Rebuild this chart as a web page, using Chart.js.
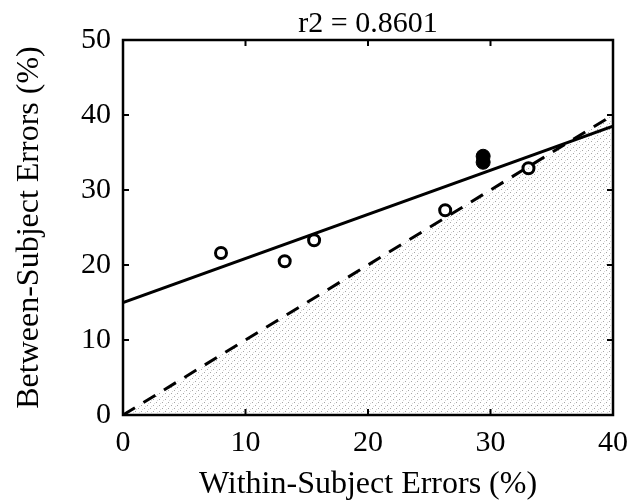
<!DOCTYPE html>
<html>
<head>
<meta charset="utf-8">
<script src="https://cdn.jsdelivr.net/npm/chart.js@4"></script>
<style>
  html, body { margin: 0; padding: 0; background: #fff; }
  #wrap { width: 637px; height: 504px; }
</style>
</head>
<body>
<div id="wrap"><canvas id="myChart" width="637" height="504"></canvas></div>
<script>
// data
const withinErr = [8.0, 13.2, 15.6, 26.3, 33.1];
const betweenErr = [21.6, 20.5, 23.3, 27.3, 32.9];
const filledWithin = [29.4, 29.4];
const filledBetween = [33.7, 34.5];
const fitX = [0, 40];
const fitY = [15.0, 38.5];
const diagX = [0, 40];
const diagY = [0, 40];
const xTicks = [0, 10, 20, 30, 40];
const yTicks = [0, 10, 20, 30, 40, 50];
const titleText = 'r2 = 0.8601';

const pts = (xs, ys) => xs.map((x, i) => ({ x: x, y: ys[i] }));

// stipple pattern for the area under the 1:1 line
function stipple() {
  const c = document.createElement('canvas');
  c.width = 6; c.height = 6;
  const g = c.getContext('2d');
  g.fillStyle = 'rgba(0,0,0,0.35)';
  g.fillRect(0, 0, 1, 1);
  g.fillRect(3, 3, 1, 1);
  g.fillStyle = 'rgba(0,0,0,0.15)';
  g.fillRect(4, 1, 1, 1);
  g.fillRect(1, 4, 1, 1);
  return g.createPattern(c, 'repeat');
}

const serif = 'Liberation Serif';

// frame, inside ticks on all four sides, title centred over the plot
const framePlugin = {
  id: 'framePlugin',
  afterDraw(chart) {
    const { ctx, chartArea: a, scales } = chart;
    ctx.save();
    ctx.strokeStyle = '#000';
    ctx.lineWidth = 2.5;
    ctx.strokeRect(a.left, a.top, a.right - a.left, a.bottom - a.top);
    ctx.lineWidth = 2;
    const len = 6;
    ctx.beginPath();
    xTicks.slice(1, -1).forEach(v => {
      const px = scales.x.getPixelForValue(v);
      ctx.moveTo(px, a.bottom); ctx.lineTo(px, a.bottom - len);
      ctx.moveTo(px, a.top); ctx.lineTo(px, a.top + len);
    });
    yTicks.slice(1, -1).forEach(v => {
      const py = scales.y.getPixelForValue(v);
      ctx.moveTo(a.left, py); ctx.lineTo(a.left + len, py);
      ctx.moveTo(a.right, py); ctx.lineTo(a.right - len, py);
    });
    ctx.stroke();
    ctx.fillStyle = '#000';
    ctx.font = '30px "' + serif + '"';
    ctx.textAlign = 'center';
    ctx.textBaseline = 'alphabetic';
    ctx.fillText(titleText, (a.left + a.right) / 2, a.top - 8);
    ctx.restore();
  }
};

const config = {
  type: 'scatter',
  data: {
    datasets: [
      {
        label: 'y = x',
        type: 'line',
        data: pts(diagX, diagY),
        borderColor: '#000',
        borderWidth: 3,
        borderDash: [14, 10],
        backgroundColor: stipple(),
        fill: 'origin',
        pointRadius: 0,
        order: 3
      },
      {
        label: 'fit',
        type: 'line',
        data: pts(fitX, fitY),
        borderColor: '#000',
        borderWidth: 3,
        fill: false,
        pointRadius: 0,
        order: 2
      },
      {
        label: 'subjects',
        data: pts(withinErr, betweenErr),
        pointRadius: 5.5,
        pointBorderWidth: 3,
        pointBorderColor: '#000',
        pointBackgroundColor: 'rgba(0,0,0,0)',
        order: 1
      },
      {
        label: 'subjects filled',
        data: pts(filledWithin, filledBetween),
        pointRadius: 7,
        pointBorderWidth: 1,
        pointBorderColor: '#000',
        pointBackgroundColor: '#000',
        order: 0
      }
    ]
  },
  options: {
    responsive: false,
    animation: false,
    layout: { padding: { left: 0, right: 24, top: 40, bottom: 0 } },
    plugins: {
      legend: { display: false },
      tooltip: { enabled: false },
      title: { display: false }
    },
    scales: {
      x: {
        type: 'linear',
        min: 0, max: 40,
        afterBuildTicks: s => { s.ticks = xTicks.map(v => ({ value: v })); },
        afterFit: s => { s.height = 89; },
        grid: { display: false },
        border: { display: false },
        ticks: { color: '#000', padding: 2, font: { family: serif, size: 30 } },
        title: {
          display: true,
          text: 'Within-Subject Errors (%)',
          color: '#000',
          font: { family: serif, size: 32 },
          padding: { top: 0, bottom: 0 }
        }
      },
      y: {
        type: 'linear',
        min: 0, max: 50,
        afterBuildTicks: s => { s.ticks = yTicks.map(v => ({ value: v })); },
        afterFit: s => { s.width = 123; },
        grid: { display: false },
        border: { display: false },
        ticks: { color: '#000', padding: 4, font: { family: serif, size: 30 } },
        title: {
          display: true,
          text: 'Between-Subject Errors (%)',
          color: '#000',
          font: { family: serif, size: 32 },
          padding: { top: 10, bottom: 0 }
        }
      }
    }
  },
  plugins: [framePlugin]
};

const ctx = document.getElementById('myChart');
const myChart = new Chart(ctx, config);
</script>
</body>
</html>
